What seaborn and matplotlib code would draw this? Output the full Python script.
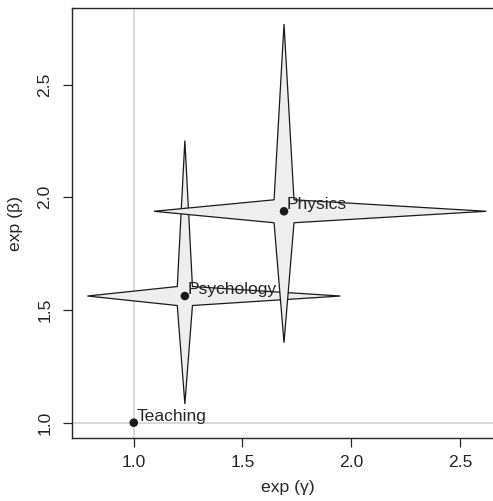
import numpy as np
import pandas as pd
import matplotlib
matplotlib.use("Agg")
import matplotlib.pyplot as plt
import seaborn as sns

# ---------- data ----------
fields = ["Teaching", "Psychology", "Physics"]
exp_gamma = [1.00, 1.235, 1.691]
exp_beta = [1.00, 1.562, 1.938]
# interval ends (Teaching is the reference level, no interval)
gamma_lo = [np.nan, 0.787, 1.093]
gamma_hi = [np.nan, 1.950, 2.621]
beta_lo = [np.nan, 1.083, 1.355]
beta_hi = [np.nan, 2.252, 2.769]

df = pd.DataFrame({"field": fields, "gamma": exp_gamma, "beta": exp_beta,
                   "g_lo": gamma_lo, "g_hi": gamma_hi,
                   "b_lo": beta_lo, "b_hi": beta_hi})

sns.set_theme(style="ticks")
plt.rcParams["font.family"] = ["Liberation Sans", "DejaVu Sans"]
INK = "#262626"
FS = 12.6

fig = plt.figure(figsize=(4.93, 5.01), dpi=100)
ax = fig.add_axes([72 / 493, 1 - 438 / 501, 1 - 72 / 493, 430 / 501])

# reference lines at 1
ax.axvline(1.0, color="#d9d9d9", lw=1.4, zorder=0)
ax.axhline(1.0, color="#d9d9d9", lw=1.4, zorder=0)

# four-pointed stars for the intervals (waist = small fraction of span)
WAIST_X, WAIST_Y = 0.03, 0.036
for _, r in df.dropna().iterrows():
    wx = WAIST_X * (r.g_hi - r.g_lo)
    wy = WAIST_Y * (r.b_hi - r.b_lo)
    xs = [r.g_lo, r.gamma - wx, r.gamma, r.gamma + wx, r.g_hi, r.gamma + wx, r.gamma, r.gamma - wx]
    ys = [r.beta, r.beta - wy, r.b_lo, r.beta - wy, r.beta, r.beta + wy, r.b_hi, r.beta + wy]
    ax.fill(xs, ys, facecolor="#eeeeee", edgecolor="#1a1a1a", lw=0.9, zorder=2)

sns.scatterplot(data=df, x="gamma", y="beta", color="#1a1a1a", s=38,
                edgecolor="none", ax=ax, zorder=4)

for _, r in df.iterrows():
    ax.annotate(r.field, (r.gamma, r.beta), xytext=(3, 2), textcoords="offset pixels",
                ha="left", va="baseline", fontsize=FS, color=INK, zorder=5)

ax.set_xlim(0.716, 2.652)
ax.set_ylim(0.932, 2.840)
ax.set_xticks([1.0, 1.5, 2.0, 2.5])
ax.set_yticks([1.0, 1.5, 2.0, 2.5])
ax.set_xticklabels(["1.0", "1.5", "2.0", "2.5"])
ax.set_yticklabels(["1.0", "1.5", "2.0", "2.5"], rotation=90, va="center")
ax.tick_params(direction="out", length=6.5, width=0.9, color=INK, labelcolor=INK,
               labelsize=FS, pad=6.0)
ax.tick_params(axis="y", pad=7.5)

for side in ["left", "bottom", "top"]:
    ax.spines[side].set_color(INK)
    ax.spines[side].set_linewidth(1.0)
ax.spines["right"].set_visible(False)

ax.set_xlabel("exp (γ)", fontsize=FS, color=INK)
ax.set_ylabel("exp (β)", fontsize=FS, color=INK)
ax.xaxis.set_label_coords((288 - 72) / 421, (438 - 480) / 430)
ax.yaxis.set_label_coords((23 - 72) / 421, 0.5)

plt.savefig("out.png", dpi=100)
plt.close()
